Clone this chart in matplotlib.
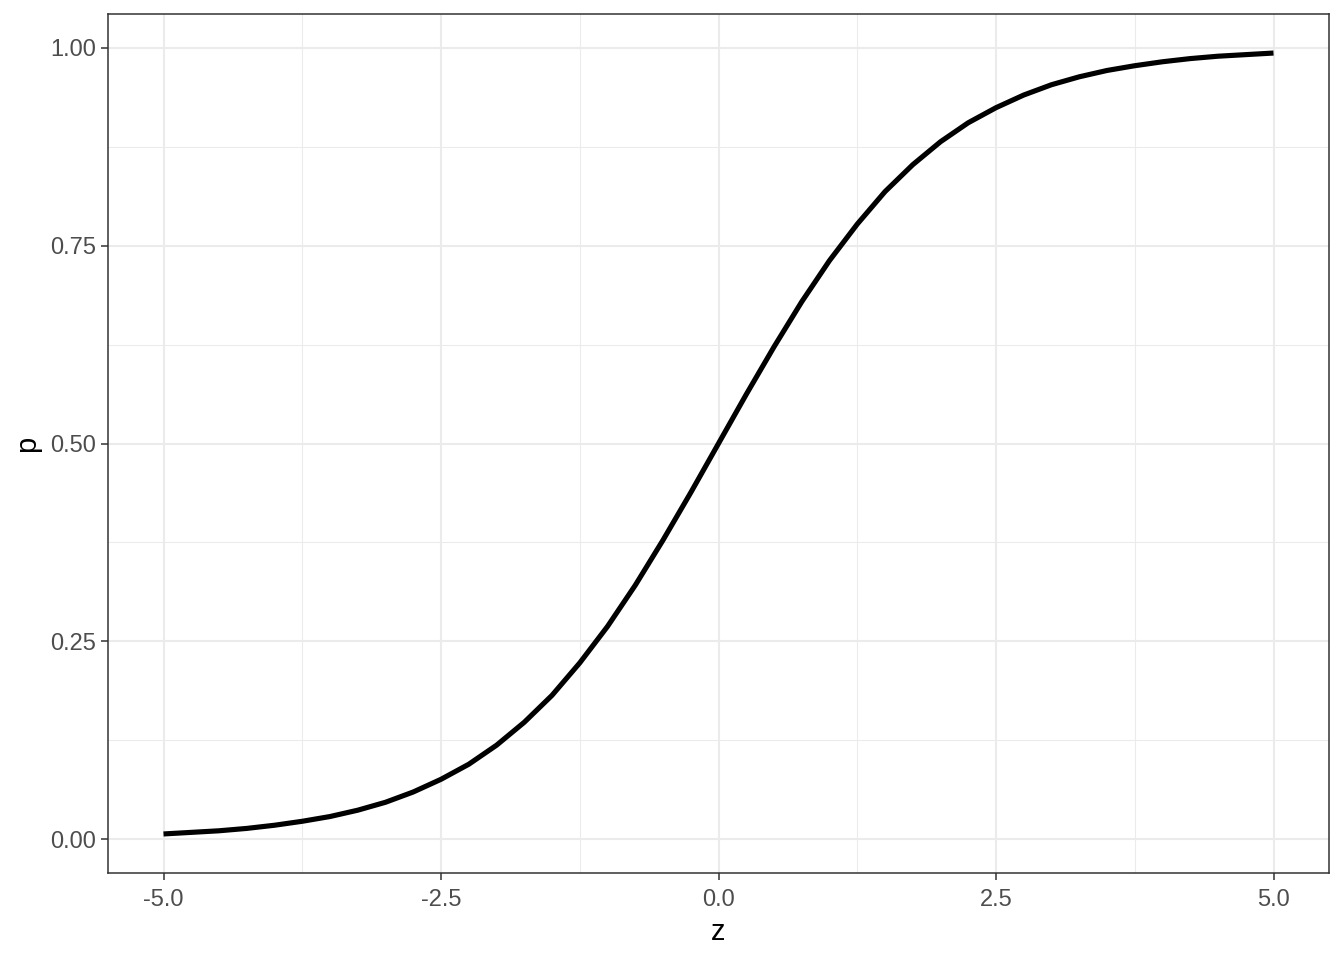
import matplotlib
matplotlib.use("Agg")
import matplotlib.pyplot as plt
from matplotlib.ticker import FixedLocator

z = [-5.0, -4.75, -4.5, -4.25, -4.0, -3.75, -3.5, -3.25, -3.0, -2.75, -2.5, -2.25,
     -2.0, -1.75, -1.5, -1.25, -1.0, -0.75, -0.5, -0.25, 0.0, 0.25, 0.5, 0.75,
     1.0, 1.25, 1.5, 1.75, 2.0, 2.25, 2.5, 2.75, 3.0, 3.25, 3.5, 3.75, 4.0, 4.25,
     4.5, 4.75, 5.0]
p = [0.007, 0.009, 0.011, 0.014, 0.018, 0.023, 0.029, 0.037, 0.047, 0.060, 0.076, 0.095,
     0.119, 0.148, 0.182, 0.223, 0.269, 0.321, 0.378, 0.438, 0.500, 0.562, 0.622, 0.679,
     0.731, 0.777, 0.818, 0.852, 0.881, 0.905, 0.924, 0.940, 0.953, 0.963, 0.971, 0.977,
     0.982, 0.986, 0.989, 0.991, 0.993]
x_ticks = [-5.0, -2.5, 0.0, 2.5, 5.0]
x_ticklabels = ["-5.0", "-2.5", "0.0", "2.5", "5.0"]
y_ticks = [0.0, 0.25, 0.5, 0.75, 1.0]
y_ticklabels = ["0.00", "0.25", "0.50", "0.75", "1.00"]

plt.rcParams['font.family'] = ['Liberation Sans', 'DejaVu Sans']

fig = plt.figure(figsize=(13.44, 9.6), dpi=100)
ax = fig.add_axes([108/1344, 87/960, (1329-108)/1344, (873-14)/960])

ax.plot(z, p, color='black', lw=3.7, solid_capstyle='butt', zorder=3)

xr = max(z) - min(z)
yr = max(p) - min(p)
ax.set_xlim(min(z) - 0.05*xr, max(z) + 0.05*xr)
ax.set_ylim(min(p) - 0.05*yr, max(p) + 0.05*yr)

ax.set_xticks(x_ticks)
ax.set_xticklabels(x_ticklabels)
ax.set_yticks(y_ticks)
ax.set_yticklabels(y_ticklabels)
ax.xaxis.set_minor_locator(FixedLocator([-3.75, -1.25, 1.25, 3.75]))
ax.yaxis.set_minor_locator(FixedLocator([0.125, 0.375, 0.625, 0.875]))

ax.grid(True, which='major', color='#EBEBEB', lw=1.5, zorder=0)
ax.grid(True, which='minor', color='#EBEBEB', lw=0.75, zorder=0)
ax.set_axisbelow(True)

for s in ax.spines.values():
    s.set_color('#333333')
    s.set_linewidth(1.1)

ax.tick_params(which='major', length=5.3, width=1.1, color='#333333',
               labelcolor='#4D4D4D', labelsize=17)
ax.tick_params(axis='x', which='major', pad=6)
ax.tick_params(axis='y', which='major', pad=3.5)
ax.tick_params(which='minor', length=0)

ax.set_xlabel('z', fontsize=21, color='black', labelpad=5)
ax.set_ylabel('p', fontsize=21, color='black', labelpad=6)

fig.savefig('out.png', dpi=100, facecolor='white')
